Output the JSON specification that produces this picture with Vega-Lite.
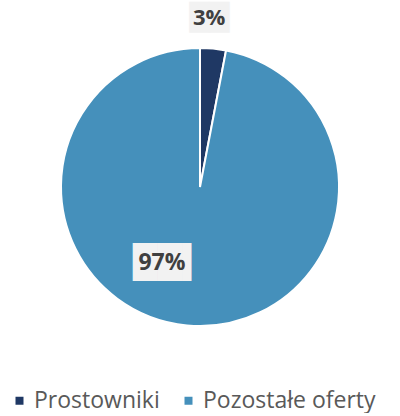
{
  "$schema": "https://vega.github.io/schema/vega-lite/v6.json",
  "width": 400,
  "height": 374,
  "padding": 0,
  "autosize": {"type": "pad"},
  "background": "white",
  "data": {"values": [
    {"category": "Prostowniki", "share": 3, "label": "3%"},
    {"category": "Pozostałe oferty", "share": 97, "label": "97%"}
  ]},
  "encoding": {
    "theta": {"field": "share", "type": "quantitative", "stack": true},
    "order": {"field": "category", "sort": "descending"}
  },
  "layer": [
    {
      "mark": {"type": "arc", "outerRadius": 139, "stroke": "white", "strokeWidth": 2},
      "encoding": {
        "color": {
          "field": "category", "type": "nominal",
          "scale": {"domain": ["Prostowniki", "Pozostałe oferty"], "range": ["#1f3864", "#4590bb"]},
          "legend": {
            "title": null, "orient": "none", "legendX": 8, "legendY": 389, "padding": 0, "direction": "horizontal",
            "symbolType": "square", "symbolSize": 64, "symbolStrokeWidth": 0,
            "labelFontSize": 23, "labelFont": "Open Sans", "labelColor": "#595959", "labelLimit": 300,
            "labelOffset": 3, "columnPadding": 17
          }
        }
      }
    },
    {
      "mark": {"type": "text", "radius": 169, "thetaOffset": -0.04, "font": "DejaVu Sans", "fontSize": 26, "color": "#f2f2f2", "baseline": "middle", "align": "center"},
      "encoding": {"text": {"condition": {"test": "datum.category === 'Prostowniki'", "value": "██"}, "value": ""}}
    },
    {
      "mark": {"type": "text", "radius": 85, "thetaOffset": 0.37, "dx": 8, "font": "DejaVu Sans", "fontSize": 32, "color": "#f2f2f2", "baseline": "middle", "align": "center"},
      "encoding": {"text": {"condition": {"test": "datum.category !== 'Prostowniki'", "value": "██▍"}, "value": ""}}
    },
    {
      "mark": {"type": "text", "radius": 169, "thetaOffset": -0.04, "font": "Open Sans", "fontWeight": "bold", "fontSize": 22, "color": "#404040", "baseline": "middle", "align": "center"},
      "encoding": {"text": {"condition": {"test": "datum.category === 'Prostowniki'", "field": "label"}, "value": ""}}
    },
    {
      "mark": {"type": "text", "radius": 85, "thetaOffset": 0.37, "font": "Open Sans", "fontWeight": "bold", "fontSize": 23, "color": "#404040", "baseline": "middle", "align": "center"},
      "encoding": {"text": {"condition": {"test": "datum.category !== 'Prostowniki'", "field": "label"}, "value": ""}}
    }
  ],
  "config": {"view": {"stroke": null}}
}
